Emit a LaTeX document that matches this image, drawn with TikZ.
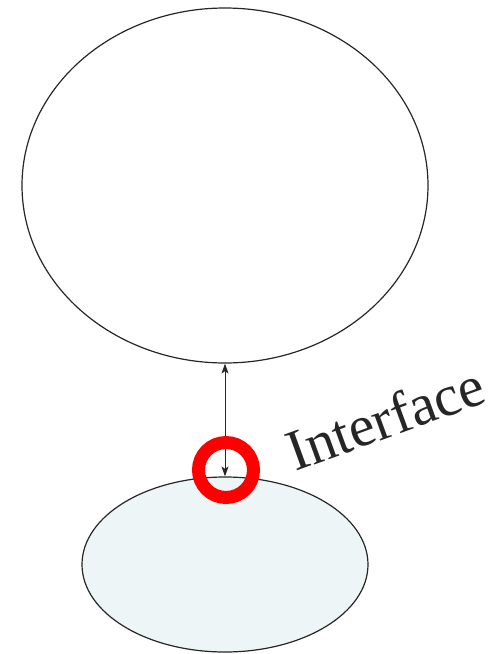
\documentclass[tikz,border=0pt]{standalone}
\usepackage{fontspec}
\setmainfont{Liberation Serif}
\usetikzlibrary{shapes.geometric,arrows.meta}
\definecolor{paleblue}{HTML}{EDF5F7}
\definecolor{ringred}{HTML}{FF0000}
\tikzset{
  blob/.style={ellipse, draw=black!85, line width=1.2pt, inner sep=0pt},
  link/.style={{Stealth[length=10pt,width=7pt,inset=2.5pt]}-{Stealth[length=10pt,width=7pt,inset=2.5pt]}, line width=1pt, black!85},
  ring/.style={circle, draw=ringred, line width=13pt, minimum size=55pt, inner sep=0pt},
  lbl/.style={font=\fontsize{58}{64}\selectfont, text=black!85, inner sep=0pt}
}
\begin{document}
\begin{tikzpicture}[x=1pt,y=-1pt]
\useasboundingbox (0,0) rectangle (492,654);
\node[blob, minimum width=406pt, minimum height=355pt] (top) at (225,185.5) {};
\node[blob, fill=paleblue, minimum width=286pt, minimum height=175pt] (bot) at (225,564.5) {};
\draw[link] (top.south) -- (bot.north);
\node[ring] (iface) at (226,470) {};
\node[lbl, anchor=base west, rotate=20] (txt) at (295,472) {Interface};
\end{tikzpicture}
\end{document}
